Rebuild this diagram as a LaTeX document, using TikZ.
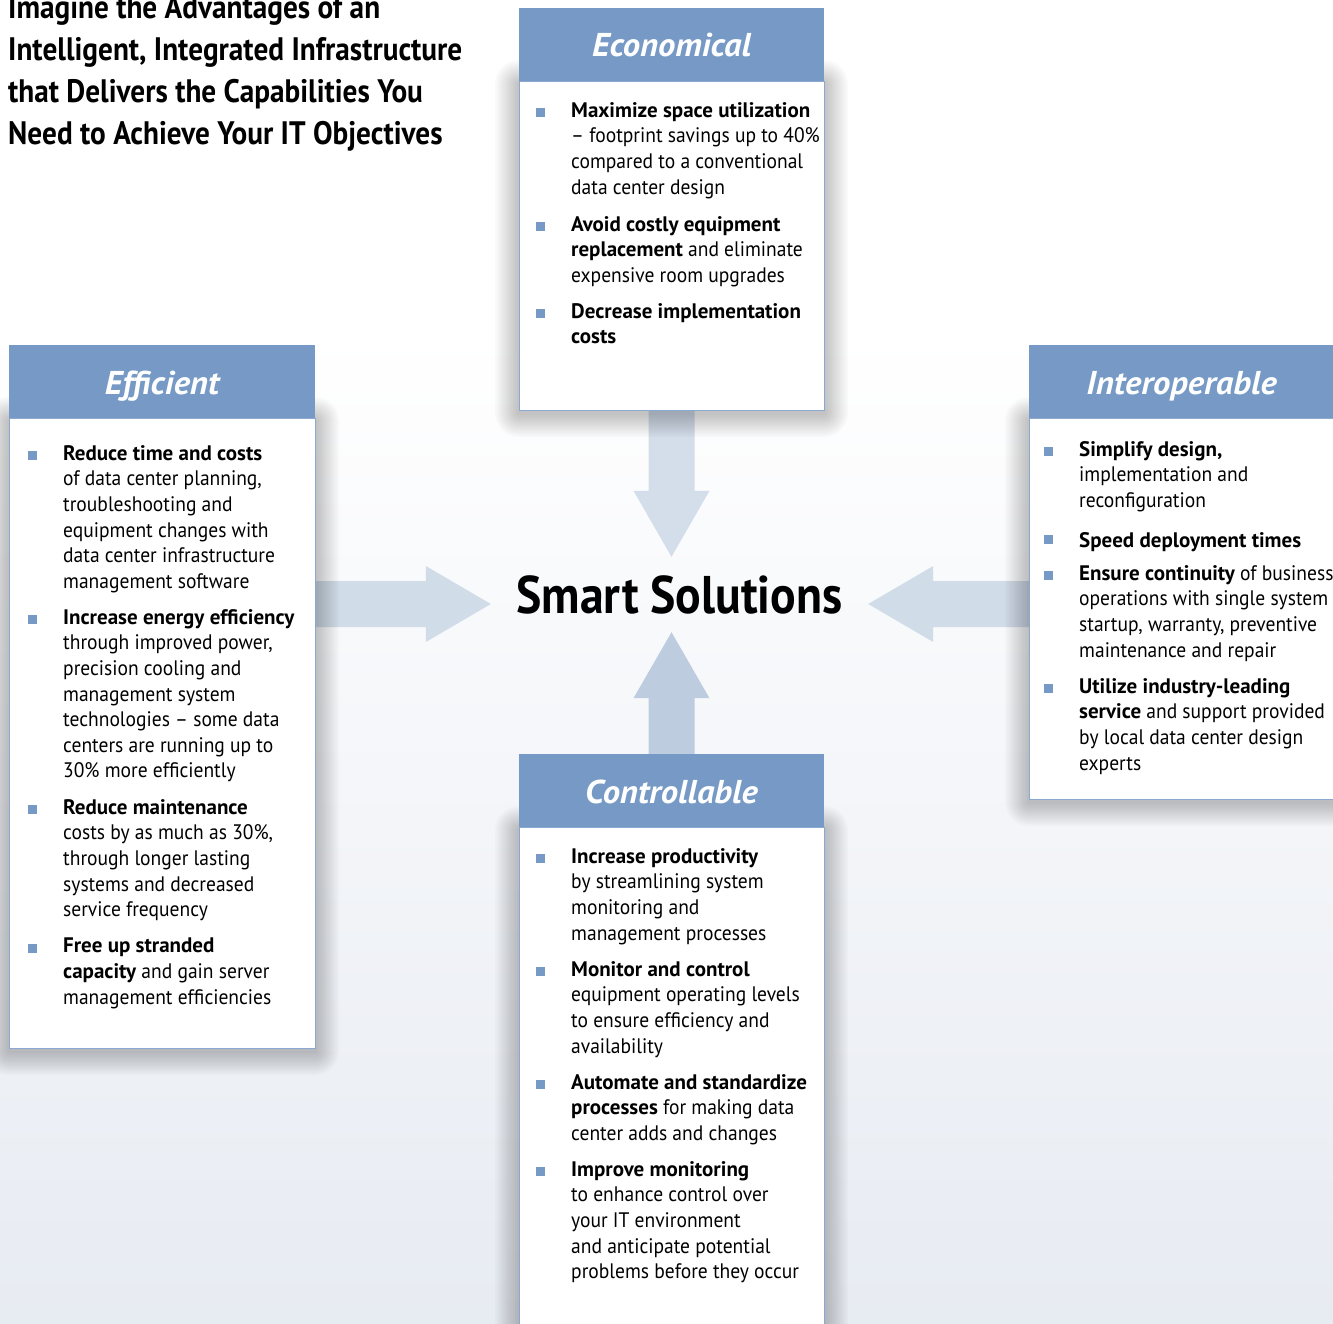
\documentclass[tikz,border=0pt]{standalone}
\usepackage{fontspec}
\setmainfont{PT Sans}[UprightFeatures={FakeStretch=0.93}, BoldFeatures={FakeStretch=1.0}]
\newfontfamily\headfont{PT Sans}[FakeStretch=0.9]
\newfontfamily\hdrfont{PT Sans}[FakeStretch=1.05]
\usetikzlibrary{positioning, calc, backgrounds}
\definecolor{hdrblue}{RGB}{118,154,197}
\definecolor{edgeblue}{RGB}{138,168,208}
\definecolor{arrowtop}{RGB}{211,222,234}
\definecolor{arrowbot}{RGB}{189,205,223}
\definecolor{arrowside}{RGB}{208,220,232}
\definecolor{bgbottom}{RGB}{231,235,242}
\tikzset{
  panel/.style={draw=edgeblue, line width=0.9pt, fill=white, anchor=north west, inner sep=0pt, outer sep=0pt},
  hdr/.style={fill=hdrblue, minimum height=73pt, inner sep=0pt, outer sep=0pt, text=white,
    font=\hdrfont\fontsize{33}{38}\selectfont\bfseries\itshape, text height=30pt, text depth=5pt},
  item/.style={anchor=north west, yshift=14.92pt, align=left, inner sep=0pt,
    font=\fontsize{21}{25.6}\selectfont, execute at begin node=\strut},
  bul/.style={fill=hdrblue, anchor=south west, xshift=-35pt, yshift=-14.92pt, minimum size=9pt, inner sep=0pt},
  haze/.style={fill=black, opacity=0.021},
}

\begin{document}
\begin{tikzpicture}[x=1pt, y=-1pt]
  \useasboundingbox (0,0) rectangle (1333,1324);

  % Title
  \node[anchor=base west, align=left, inner sep=0pt, font=\headfont\fontsize{32.5}{42}\selectfont\bfseries] (title) at (8,145) {
    Imagine the Advantages of an\\
    Intelligent, Integrated Infrastructure\\
    that Delivers the Capabilities You\\
    Need to Achieve Your IT Objectives};

  % Centre
  \node[font=\headfont\fontsize{53}{58}\selectfont\bfseries, minimum width=377pt, minimum height=75pt, inner sep=0pt] (smart) at (679.5,594.5) {Smart Solutions};
  \coordinate (hub) at (672,604);

  % Economical
  \node[panel, minimum width=305pt, minimum height=329pt] (econ) at (519,81) {};
  \node[hdr, minimum width=305pt, above=0pt of econ] (econh) {Economical};
  \node[item] (e1) at (571,117) {\textbf{Maximize space utilization}\\
    -- footprint savings up to 40\%\\ compared to a conventional\\ data center design};
  \node[item] (e2) at (571,231) {\textbf{Avoid costly equipment}\\
    \textbf{replacement} and eliminate\\ expensive room upgrades};
  \node[item] (e3) at (571,318) {\textbf{Decrease implementation}\\ \textbf{costs}};
  \node[bul] at (e1.north west) {};
  \node[bul] at (e2.north west) {};
  \node[bul] at (e3.north west) {};

  % Efficient
  \node[panel, minimum width=306pt, minimum height=630pt] (eff) at (9,418) {};
  \node[hdr, minimum width=306pt, above=0pt of eff] (effh) {Efficient};
  \node[item] (f1) at (63,460) {\textbf{Reduce time and costs}\\
    of data center planning,\\ troubleshooting and\\ equipment changes with\\
    data center infrastructure\\ management software};
  \node[item] (f2) at (63,624) {\textbf{Increase energy efficiency}\\
    through improved power,\\ precision cooling and\\ management system\\
    technologies -- some data\\ centers are running up to\\ 30\% more efficiently};
  \node[item] (f3) at (63,814) {\textbf{Reduce maintenance}\\
    costs by as much as 30\%,\\ through longer lasting\\ systems and decreased\\ service frequency};
  \node[item] (f4) at (63,953) {\textbf{Free up stranded}\\
    \textbf{capacity} and gain server\\ management efficiencies};
  \node[bul] at (f1.north west) {};
  \node[bul] at (f2.north west) {};
  \node[bul] at (f3.north west) {};
  \node[bul] at (f4.north west) {};

  % Interoperable
  \node[panel, minimum width=305pt, minimum height=381pt] (inter) at (1029,418) {};
  \node[hdr, minimum width=305pt, above=0pt of inter] (interh) {Interoperable};
  \node[item] (i1) at (1079,456) {\textbf{Simplify design,}\\ implementation and\\ reconfiguration};
  \node[item] (i2) at (1079,544) {\textbf{Speed deployment times}};
  \node[item] (i3) at (1079,580) {\textbf{Ensure continuity} of business\\
    operations with single system\\ startup, warranty, preventive\\ maintenance and repair};
  \node[item] (i4) at (1079,693) {\textbf{Utilize industry-leading}\\
    \textbf{service} and support provided\\ by local data center design\\ experts};
  \node[bul] at (i1.north west) {};
  \node[bul] at (i2.north west) {};
  \node[bul] at (i3.north west) {};
  \node[bul] at (i4.north west) {};

  % Controllable
  \node[panel, minimum width=305pt, minimum height=527pt] (ctrl) at (519,827) {};
  \node[hdr, minimum width=305pt, above=0pt of ctrl] (ctrlh) {Controllable};
  \node[item] (c1) at (571,863) {\textbf{Increase productivity}\\
    by streamlining system\\ monitoring and\\ management processes};
  \node[item] (c2) at (571,976) {\textbf{Monitor and control}\\
    equipment operating levels\\ to ensure efficiency and\\ availability};
  \node[item] (c3) at (571,1089) {\textbf{Automate and standardize}\\
    \textbf{processes} for making data\\ center adds and changes};
  \node[item] (c4) at (571,1176) {\textbf{Improve monitoring}\\
    to enhance control over\\ your IT environment\\ and anticipate potential\\ problems before they occur};
  \node[bul] at (c1.north west) {};
  \node[bul] at (c2.north west) {};
  \node[bul] at (c3.north west) {};
  \node[bul] at (c4.north west) {};

  \begin{pgfonlayer}{background}
    % Backdrop
    \fill[white] (0,0) rectangle (1333,1324);
    \shade[top color=white, bottom color=bgbottom] (0,330) rectangle (1333,1324);

    % Block arrows into the centre
    \coordinate (ttip) at (econ.south |- smart.north);
    \coordinate (btip) at (ctrlh.north |- smart.south);
    \coordinate (ltip) at (smart.west |- hub);
    \coordinate (rtip) at (smart.east |- hub);
    \fill[arrowtop] ($(econ.south)+(-23,0)$) -- ($(ttip)+(-23,-66)$) -- ($(ttip)+(-38,-66)$) -- (ttip)
      -- ($(ttip)+(38,-66)$) -- ($(ttip)+(23,-66)$) -- ($(econ.south)+(23,0)$) -- cycle;
    \fill[arrowbot] ($(ctrlh.north)+(-23,0)$) -- ($(btip)+(-23,66)$) -- ($(btip)+(-38,66)$) -- (btip)
      -- ($(btip)+(38,66)$) -- ($(btip)+(23,66)$) -- ($(ctrlh.north)+(23,0)$) -- cycle;
    \fill[arrowside] ($(eff.east |- hub)+(0,-23)$) -- ($(ltip)+(-65,-23)$) -- ($(ltip)+(-65,-38)$) -- (ltip)
      -- ($(ltip)+(-65,38)$) -- ($(ltip)+(-65,23)$) -- ($(eff.east |- hub)+(0,23)$) -- cycle;
    \fill[arrowside] ($(inter.west |- hub)+(0,-23)$) -- ($(rtip)+(65,-23)$) -- ($(rtip)+(65,-38)$) -- (rtip)
      -- ($(rtip)+(65,38)$) -- ($(rtip)+(65,23)$) -- ($(inter.west |- hub)+(0,23)$) -- cycle;

    % Soft shadows round the panel bodies
    \foreach \p in {econ, eff, inter, ctrl}
      \foreach \d in {2,4,...,24}
        \fill[haze, rounded corners=\d pt] ($(\p.north west)+(-\d,-\d+3)$) rectangle ($(\p.south east)+(\d,\d+3)$);
  \end{pgfonlayer}
\end{tikzpicture}
\end{document}
